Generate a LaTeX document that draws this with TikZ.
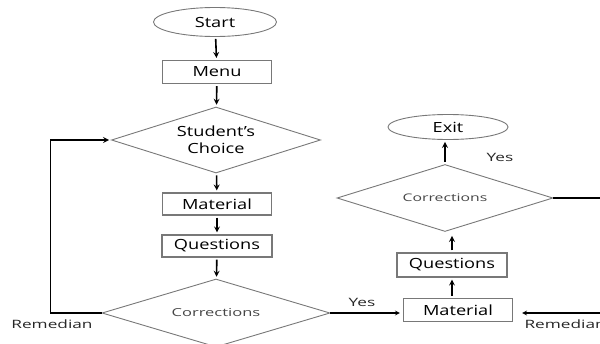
\documentclass[tikz,border=0pt]{standalone}
\usepackage{fontspec}
\setmainfont[FakeStretch=1.3]{Open Sans}
\newfontfamily\widefont[FakeStretch=1.5]{Open Sans}
\usepackage{tikz}
\usetikzlibrary{shapes,arrows}
\definecolor{boxgray}{RGB}{120,120,120}
\definecolor{txtgray}{RGB}{70,70,70}

\begin{document}
\begin{tikzpicture}[x=1pt,y=-1pt,
  process/.style={draw=boxgray,line width=1.1pt,minimum width=109pt,minimum height=23pt,inner sep=0pt,font=\fontsize{14}{16}\selectfont},
  terminal/.style={draw=boxgray,line width=0.9pt,ellipse,inner sep=0pt,font=\fontsize{14}{16}\selectfont},
  decision/.style={draw=boxgray,line width=0.9pt,diamond,aspect=3.2,inner sep=0pt,align=center,font=\fontsize{14}{17}\selectfont},
  flow/.style={->,>=stealth,line width=1.6pt,shorten <=2pt,shorten >=2pt},
  tag/.style={font=\widefont\fontsize{11.5}{13}\selectfont,text=black!85}]

% to fix the page
\clip (0,0) rectangle (600,343);

% to draw first chart
\node [terminal,minimum width=123pt,minimum height=29pt] (start) at (215,22) {Start};
\node [process] (menu) at (217,72) {Menu};
\node [decision,minimum width=209pt,minimum height=66pt] (choice) at (216,140) {Student's\\Choice};
\node [process,minimum height=22pt] (mat1) at (217,204) {Material};
\node [process,minimum width=110pt,minimum height=22pt] (quest1) at (217,246) {Questions};
\node [decision,minimum width=228pt,minimum height=68pt,font=\widefont\fontsize{11}{13}\selectfont,text=txtgray] (corr1) at (216,313) {Corrections};

% to draw second chart
\node [terminal,minimum width=120pt,minimum height=25pt] (exit) at (448,127) {Exit};
\node [decision,minimum width=216pt,minimum height=67pt,font=\widefont\fontsize{10.5}{12}\selectfont,text=txtgray] (corr2) at (445,198) {Corrections};
\node [process,minimum width=110pt,minimum height=24pt] (quest2) at (452,265) {Questions};
\node [process] (mat2) at (458,310) {Material};

% to write labels
\node [tag] (rem1) at (52,324) {Remedian};
\node [tag] (yes1) at (362,302) {Yes};
\node [tag] (yes2) at (500,157) {Yes};
\node [tag,anchor=west] (rem2) at (521,324) {Remedian};

% to draw arrows
\draw [flow] (start) -- (menu);
\draw [flow] (menu) -- (choice);
\draw [flow] (choice) -- (mat1);
\draw [flow] (mat1) -- (quest1);
\draw [flow] (quest1) -- (corr1);
\draw [flow,shorten <=0pt] (corr1.west) -- ++(-51,0) |- (choice.west);
\draw [->,>=stealth,line width=1.2pt,shorten >=3pt] (corr1.east) -- (corr1.east -| mat2.west);

\draw [flow] (quest2.south |- mat2.north) -- (quest2.south);
\draw [flow,shorten >=4pt] (quest2.north) -- (quest2.north |- corr2.south);
\draw [flow] (corr2.north) -- (corr2.north |- exit.south);
\draw [->,>=stealth,line width=1.2pt,shorten >=9pt] (corr2.east) -- ++(80,0) |- ([yshift=-3pt]mat2.east);
\end{tikzpicture}
\end{document}
